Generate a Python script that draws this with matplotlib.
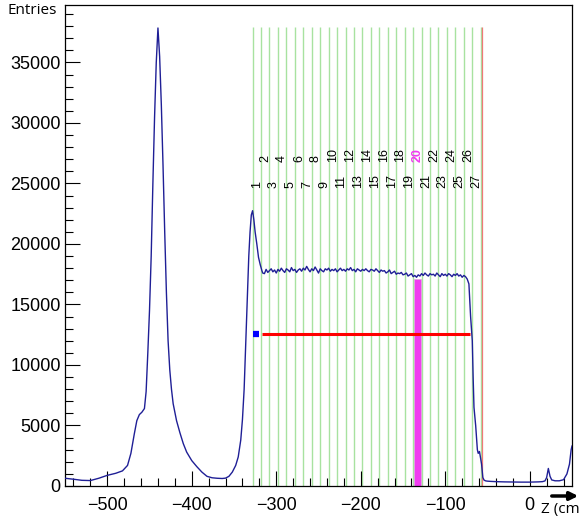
import numpy as np
import matplotlib
matplotlib.use("Agg")
import matplotlib.pyplot as plt
from matplotlib.ticker import MultipleLocator

# ---- data ----
# left tail + big peak
z_left = [-550, -540, -530, -520, -510, -500, -490, -482, -476, -472, -468, -465, -462,
          -459, -456, -454, -452, -450, -448, -446, -444, -442, -440, -438, -436, -434,
          -432, -430, -428, -426, -424, -422, -418, -414, -410, -406, -400, -394, -388,
          -382, -376, -370, -364, -360, -356, -352, -348, -345, -342, -340, -338, -336,
          -334, -332.5, -331, -329.5, -328, -326.5, -325, -323, -321, -319, -317, -316]
n_left = [640, 560, 470, 450, 640, 880, 1050, 1250, 1700, 2700, 4300, 5400, 5900,
          6100, 6400, 7800, 11000, 14500, 19000, 25000, 30500, 35000, 37850, 35500, 31500, 26500,
          21000, 16000, 12000, 9600, 8000, 6800, 5400, 4400, 3500, 2800, 2100, 1600, 1150,
          800, 680, 640, 620, 650, 800, 1150, 1700, 2400, 3800, 5500, 8000, 12000,
          16000, 19000, 21000, 22400, 22750, 22000, 21000, 20000, 18900, 18300, 17800, 17600]

# plateau, 2 cm bins from -314 to -72
z_plateau = np.arange(-314, -71, 2)
n_plateau = [17550, 17900, 17650, 17800, 17950, 17700, 17850, 17600, 17900, 17750,
             18000, 17800, 17650, 17950, 17850, 17700, 18050, 17800, 17900, 17650,
             17850, 17950, 17750, 18000, 17850, 18150, 17900, 17700, 17950, 17800,
             18100, 17850, 17600, 17950, 17800, 17700, 17950, 17850, 18000, 17750,
             17900, 17800, 17950, 17700, 17850, 18000, 17800, 17900, 17750, 17950,
             17850, 18050, 17800, 17900, 17700, 17950, 17850, 17750, 17900, 17800,
             17950, 17800, 17700, 17900, 17850, 17750, 17950, 17800, 17650, 17850,
             17750, 17800, 17600, 17700, 17850, 17550, 17650, 17750, 17500, 17600,
             17550, 17650, 17450, 17500, 17600, 17350, 17450, 17550, 17300, 17400,
             17250, 17450, 17350, 17550, 17400, 17600, 17450, 17350, 17550, 17450,
             17500, 17350, 17600, 17450, 17300, 17550, 17400, 17500, 17350, 17550,
             17450, 17300, 17500, 17400, 17550, 17350, 17450, 17250, 17400, 17300,
             17100, 16700]

# fall-off + right tail
z_right = [-70, -68, -67, -66, -64, -62, -61, -59.5, -58, -57, -55.5, -54, -52, -50,
           -46, -40, -30, -20, -10, 0, 5, 10, 15, 18, 20, 22, 24, 26, 30, 35, 40, 44,
           47, 49, 50]
n_right = [14000, 12000, 9000, 6500, 5000, 3000, 2700, 2850, 2200, 1800, 700, 480, 420, 400,
           380, 360, 340, 330, 320, 320, 330, 340, 360, 420, 700, 1450, 800, 500, 430, 430,
           520, 1000, 1800, 3000, 3300]

z = np.concatenate([z_left, z_plateau, z_right])
entries = np.concatenate([n_left, n_plateau, n_right])

slot_edges = np.arange(-328, -57, 10)        # 28 green boundaries
slot_labels = [str(i) for i in range(1, 28)]
highlight_slot = 20
highlight_height = 17100
red_line_z = -56
band_y = 12600
band_start, band_end = -317, -70.5
marker_start, marker_end = -328, -320

# ---- figure ----
fig = plt.figure(figsize=(5.82, 5.25), dpi=100)
ax = fig.add_axes([65/582, 1-486/525, 507/582, 481/525])

top = 37900
ax.vlines(slot_edges, 0, top, color='#a8e2a0', lw=1.0, zorder=1)
ax.vlines(red_line_z, 0, top, color='#f07878', lw=0.9, zorder=1)

# highlighted target bin
hl_left = slot_edges[highlight_slot - 1]
ax.bar(hl_left + 5.2, highlight_height, width=8.6, color='#f03cf0',
       edgecolor='#d8a8d8', lw=0.5, zorder=2)

ax.plot(z, entries, color='#1f1f96', lw=1.0, zorder=3)

ax.hlines(band_y, band_start, band_end, color='#ff0000', lw=2.2, zorder=4)
ax.hlines(band_y, marker_start, marker_end, color='#0000ff', lw=4.5, zorder=4)

centers = slot_edges[:-1] + 5
for i, (c, lab) in enumerate(zip(centers, slot_labels)):
    y = 24600 if (i + 1) % 2 else 26800
    hl = (i + 1) == highlight_slot
    ax.text(c, y, lab, rotation=90, ha='center', va='bottom',
            fontsize=9, family='Liberation Sans',
            color='#f03cf0' if hl else 'black',
            fontweight='bold' if hl else 'normal', zorder=5)

ax.set_xlim(-550, 50)
ax.set_ylim(0, 39750)
ax.xaxis.set_major_locator(MultipleLocator(100))
ax.xaxis.set_minor_locator(MultipleLocator(20))
ax.yaxis.set_major_locator(MultipleLocator(5000))
ax.yaxis.set_minor_locator(MultipleLocator(1000))
ax.tick_params(which='both', direction='in', top=False, right=False, width=0.8)
ax.tick_params(which='major', length=10.5)
ax.tick_params(which='minor', length=5.5)
ax.tick_params(axis='x', pad=8)
ax.tick_params(axis='y', pad=3)
for lab in ax.get_xticklabels() + ax.get_yticklabels():
    lab.set_family('Liberation Sans')
    lab.set_fontsize(13)
for s in ax.spines.values():
    s.set_linewidth(0.9)

fig.text(57/582, 1-10/525, 'Entries', ha='right', va='center',
         fontsize=11, family='Open Sans')
fig.text(541/582, 1-510/525, 'Z (cm', ha='left', va='center',
         fontsize=11, family='Open Sans')
ax.annotate('', xy=(581, 29), xytext=(549, 29), xycoords='figure pixels',
            arrowprops=dict(arrowstyle='-|>', lw=2.5, color='black',
                            mutation_scale=12))

fig.savefig('out.png', dpi=100)
